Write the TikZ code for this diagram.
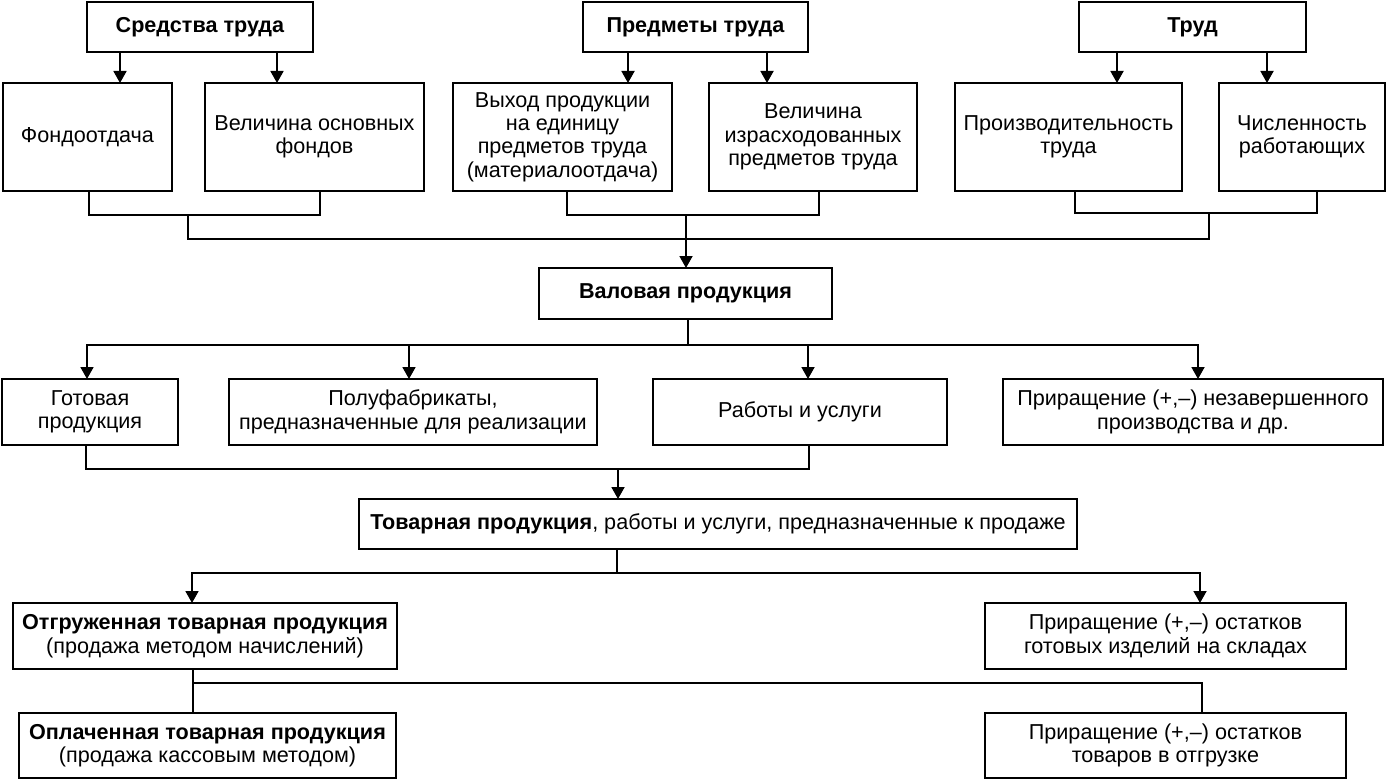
\documentclass[tikz,border=0pt]{standalone}
\usepackage{fontspec}
\setmainfont{Liberation Sans}
\usetikzlibrary{arrows.meta}
\newcommand\bx[6]{\node[box, minimum width={(#4-#2)*0.5pt}, minimum height={(#5-#3)*0.5pt}] (#1) at ({(#2+#4)/2},{(#3+#5)/2}) {#6};}
\begin{document}
\begin{tikzpicture}[x=0.5pt,y=-0.5pt,
  box/.style={draw, line width=0.9pt, inner sep=0pt, outer sep=0pt, align=center, font=\fontsize{10.8}{11.7}\selectfont},
  ln/.style={line width=0.9pt},
  arr/.style={line width=0.9pt, -{Triangle[length=6pt,width=6.5pt]}}]
\useasboundingbox[fill=white] (0,0) rectangle (1387,781);
% top row
\bx{S1}{87}{2}{313}{52}{\textbf{Средства труда}}
\bx{S2}{583}{2}{808}{52}{\textbf{Предметы труда}}
\bx{S3}{1079}{2}{1306}{52}{\textbf{Труд}}
% second row
\bx{f1}{3}{83}{172}{191}{Фондоотдача}
\bx{f2}{205}{83}{424}{191}{Величина основных\\фондов}
\bx{p1}{453}{83}{672}{191}{Выход продукции\\на единицу\\предметов труда\\(материалоотдача)}
\bx{p2}{709}{83}{917}{191}{Величина\\израсходованных\\предметов труда}
\bx{t1}{955}{83}{1182}{191}{Производительность\\труда}
\bx{t2}{1219}{83}{1385}{191}{Численность\\работающих}
% middle
\bx{V}{539}{268}{832}{319}{\textbf{Валовая продукция}}
\bx{g1}{2}{379}{178}{445}{Готовая\\продукция}
\bx{g2}{229}{379}{597}{445}{Полуфабрикаты,\\предназначенные для реализации}
\bx{g3}{653}{379}{947}{445}{Работы и услуги}
\bx{g4}{1003}{379}{1383}{445}{Приращение (+,–) незавершенного\\производства и др.}
\bx{T}{359}{499}{1077}{549}{\textbf{Товарная продукция}, работы и услуги, предназначенные к продаже}
\bx{o1}{13}{603}{397}{669}{\textbf{Отгруженная товарная продукция}\\(продажа методом начислений)}
\bx{o2}{985}{603}{1346}{669}{Приращение (+,–) остатков\\готовых изделий на складах}
\bx{q1}{19}{713}{396}{778}{\textbf{Оплаченная товарная продукция}\\(продажа кассовым методом)}
\bx{q2}{985}{713}{1346}{778}{Приращение (+,–) остатков\\товаров в отгрузке}
% arrows top -> second row
\draw[arr] (S1.south -| 120,0) -- (f1.north -| 120,0);
\draw[arr] (S1.south -| 277,0) -- (f2.north -| 277,0);
\draw[arr] (S2.south -| 628,0) -- (p1.north -| 628,0);
\draw[arr] (S2.south -| 767,0) -- (p2.north -| 767,0);
\draw[arr] (S3.south -| 1117,0) -- (t1.north -| 1117,0);
\draw[arr] (S3.south -| 1267,0) -- (t2.north -| 1267,0);
% brackets
\coordinate (jf) at (188,215);
\coordinate (jp) at (686,215);
\coordinate (jt) at (1209,213);
\draw[ln] (f1.south -| 89,0) |- (jf) -| (f2.south -| 320,0);
\draw[ln] (p1.south -| 567,0) |- (jp) -| (p2.south -| 819,0);
\draw[ln] (t1.south -| 1075,0) |- (jt) -| (t2.south -| 1317,0);
\draw[ln] (jf) -- (188,239) -| (jt);
\draw[arr] (jp) -- (V.north -| jp);
% Валовая -> row 3
\coordinate (jv) at (688,345);
\draw[ln] (V.south -| jv) -- (jv);
\draw[arr] (jv) -| (g1.north -| 87,0);
\draw[arr] (jv) -| (g2.north -| 409,0);
\draw[arr] (jv) -| (g3.north -| 808,0);
\draw[arr] (jv) -| (g4.north -| 1198,0);
% row 3 -> Товарная
\coordinate (jg) at (618,469);
\draw[ln] (g1.south -| 86,0) |- (jg) -| (g3.south -| 809,0);
\draw[arr] (jg) -- (T.north -| jg);
% Товарная -> row 4
\coordinate (jT) at (617,573);
\draw[ln] (T.south -| jT) -- (jT);
\draw[arr] (jT) -| (o1.north -| 192,0);
\draw[arr] (jT) -| (o2.north -| 1200,0);
% row 4 -> row 5
\coordinate (jo) at (193,683);
\draw[ln] (o1.south -| jo) -- (jo) -- (q1.north -| jo);
\draw[ln] (jo) -| (q2.north -| 1202,0);
\end{tikzpicture}
\end{document}
